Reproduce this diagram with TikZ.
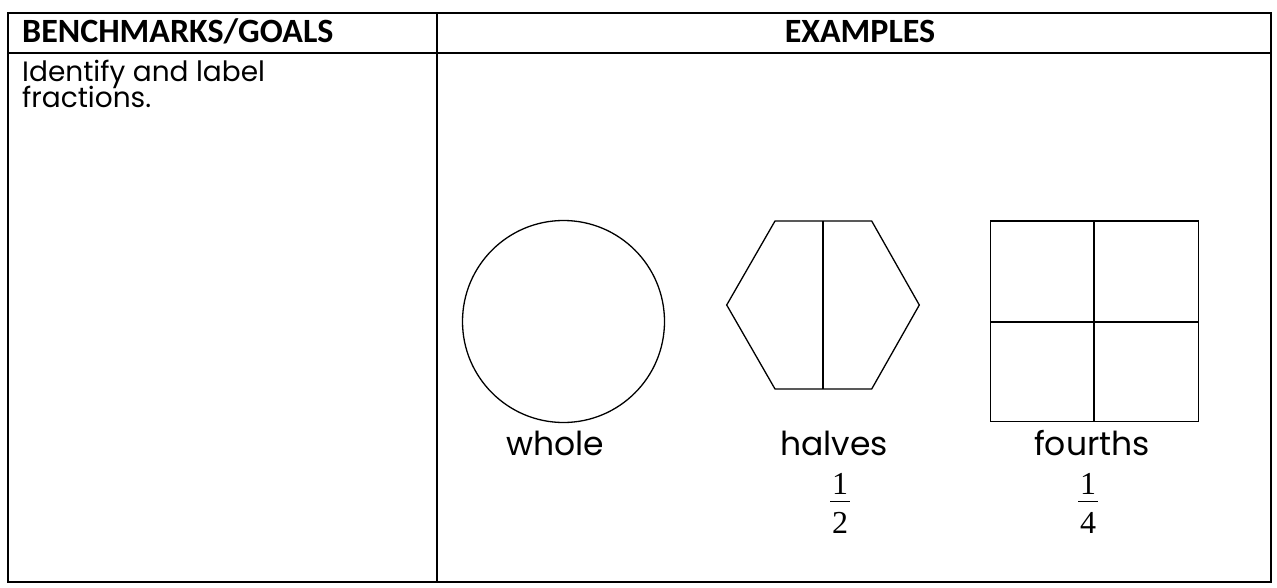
\documentclass[tikz,border=0pt]{standalone}
\usepackage{fontspec}
\setmainfont{Poppins}
\newfontfamily\headfont{Carlito}
\newfontfamily\numfont{Liberation Serif}
\begin{document}
\begin{tikzpicture}[x=1pt,y=-1pt,
  frame/.style={line width=2.2pt},
  outline/.style={line width=1.3pt},
  divline/.style={line width=1.8pt},
  headtxt/.style={font=\headfont\bfseries\fontsize{34}{40}\selectfont, inner sep=0pt, anchor=base},
  bodytxt/.style={font=\fontsize{28}{34}\selectfont, inner sep=0pt, anchor=base},
  labeltxt/.style={font=\fontsize{33}{40}\selectfont, inner sep=0pt, anchor=base},
  numtxt/.style={font=\numfont\fontsize{32}{38}\selectfont, inner sep=0pt, anchor=base}]
\useasboundingbox (0,0) rectangle (1277,588);
% table
\draw[frame] (8,13) rectangle (1271,582);
\draw[frame] (8,53) -- (1271,53);
\draw[frame] (437,13) -- (437,582);
% headers
\node[headtxt, anchor=base west] (h1) at (22,43) {BENCHMARKS/GOALS};
\node[headtxt] (h2) at (860,43) {EXAMPLES};
% goal text
\node[bodytxt, anchor=base west] (g1) at (22,82) {Identify and label};
\node[bodytxt, anchor=base west] (g2) at (22,108) {fractions.};
% circle
\draw[outline] (563.5,321.5) circle (101);
% hexagon
\draw[outline] (775,221) -- (871.7,221) -- (919.3,305) -- (871.7,389) -- (775,389) -- (726.7,305) -- cycle;
\draw[outline] (823,221) -- (823,389);
% square
\draw[outline] (990.7,221) rectangle (1198.3,421.7);
\draw[divline] (1094,221) -- (1094,421.7);
\draw[divline] (990.7,321.7) -- (1198.3,321.7);
% labels
\node[labeltxt] (l1) at (555,455) {whole};
\node[labeltxt] (l2) at (834,455) {halves};
\node[labeltxt] (l3) at (1092,455) {fourths};
% fractions
\node[numtxt] (n1) at (840,494) {1};
\draw[line width=1.1pt] (830,501.5) -- (850,501.5);
\node[numtxt] (d1) at (840,533) {2};
\node[numtxt] (n2) at (1088,494) {1};
\draw[line width=1.1pt] (1078,501.5) -- (1098,501.5);
\node[numtxt] (d2) at (1088,533) {4};
\end{tikzpicture}
\end{document}
